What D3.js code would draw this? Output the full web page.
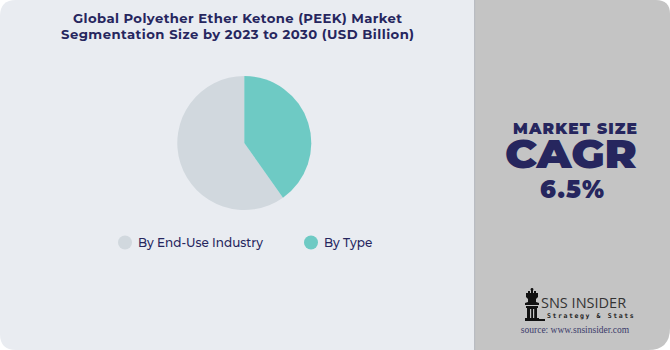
<!DOCTYPE html>
<html><head><meta charset="utf-8">
<script src="https://cdn.jsdelivr.net/npm/d3@7"></script>
<style>html,body{margin:0;padding:0;background:#fff;}svg{display:block;}</style>
</head><body>
<script>
const categories = ["By End-Use Industry", "By Type"];
const shares = [59.8, 40.2];
const colors = ["#d1d8de", "#6ecac4"];
const titleLines = ["Global Polyether Ether Ketone (PEEK) Market", "Segmentation Size by 2023 to 2030 (USD Billion)"];
const cagrLabel = "6.5%";

const W = 670, H = 350;
const svg = d3.select("body").append("svg").attr("width", W).attr("height", H);
const navy = "#26265e";

// panels
svg.append("path").attr("fill", "#e9ecf1")
  .attr("d", `M0,16 Q0,0 16,0 L474,0 L474,350 L16,350 Q0,350 0,334 Z`);
svg.append("path").attr("fill", "#c4c4c4")
  .attr("d", `M474,0 L656,0 Q670,0 670,14 L670,328 Q670,350 648,350 L474,350 Z`);
svg.append("rect").attr("x", 474).attr("y", 0).attr("width", 1.2).attr("height", 350).attr("fill", "#b9bcc2");

// title
const font = "Montserrat, 'Open Sans', 'Noto Sans', sans-serif";
const titleW = [329, 353];
svg.append("g").selectAll("text").data(titleLines).join("text")
  .attr("x", 237.5).attr("y", (d, i) => 23.3 + i * 16)
  .attr("text-anchor", "middle").attr("font-family", font).attr("font-weight", 700)
  .attr("font-size", 13.2).attr("textLength", (d, i) => titleW[i]).attr("lengthAdjust", "spacing")
  .attr("fill", navy).text(d => d);

// pie
const order = [1, 0];
const pie = d3.pie().value(d => d.v).sort((a, b) => order.indexOf(a.i) - order.indexOf(b.i));
const data = categories.map((c, i) => ({ c, v: shares[i], i }));
const arc = d3.arc().innerRadius(0).outerRadius(67);
svg.append("g").attr("transform", "translate(244.3,143)")
  .selectAll("path").data(pie(data)).join("path")
  .attr("d", arc).attr("fill", d => colors[d.data.i]);

// legend
const lx = [125, 311];
const lg = svg.append("g").selectAll("g").data(categories).join("g")
  .attr("transform", (d, i) => `translate(${lx[i]},242.5)`);
lg.append("circle").attr("r", 7).attr("fill", (d, i) => colors[i]);
lg.append("text").attr("x", 13).attr("y", 4.5).attr("font-family", font).attr("font-weight", 500)
  .attr("font-size", 12).attr("fill", navy).text(d => d);

// right panel
svg.append("text").attr("x", 575).attr("y", 133.5).attr("text-anchor", "middle")
  .attr("font-family", font).attr("font-weight", 900).attr("font-size", 15.5)
  .attr("textLength", 124).attr("lengthAdjust", "spacing").attr("fill", navy).text("MARKET SIZE");
svg.append("text").attr("x", 571).attr("y", 168).attr("text-anchor", "middle")
  .attr("font-family", font).attr("font-weight", 900).attr("font-size", 40)
  .attr("textLength", 132).attr("lengthAdjust", "spacingAndGlyphs").attr("fill", navy).text("CAGR");
svg.append("text").attr("x", 572).attr("y", 198).attr("text-anchor", "middle")
  .attr("font-family", font).attr("font-weight", 900).attr("font-size", 24)
  .attr("textLength", 64).attr("lengthAdjust", "spacing").attr("fill", navy).text(cagrLabel);

// logo
const logo = svg.append("g").attr("transform", "translate(523,288)");
logo.append("path").attr("fill", "#111")
  .attr("d", "M3,5 L5,5 L5,3 L7,3 L7,5 L8,5 L8,2 L10,2 L10,5 L11,5 L11,3 L13,3 L13,5 L15,5 L15,9 L13,11 L13,14 L16,15 L16,17 L2,17 L2,15 L5,14 L5,11 L3,9 Z");
logo.append("circle").attr("cx", 9).attr("cy", 1.5).attr("r", 1.4).attr("fill", "#111");
logo.append("path").attr("fill", "#111")
  .attr("d", "M3,18 L15,18 L15,20 L14,20 L14,30 L16,30 L16,33 L2,33 L2,30 L4,30 L4,20 L3,20 Z");
logo.append("rect").attr("x", 7).attr("y", 21).attr("width", 1.2).attr("height", 9).attr("fill", "#c4c4c4");
logo.append("rect").attr("x", 10).attr("y", 21).attr("width", 1.2).attr("height", 9).attr("fill", "#c4c4c4");
logo.append("rect").attr("x", 16).attr("y", 31).attr("width", 6).attr("height", 2).attr("fill", "#111");
svg.append("text").attr("x", 541).attr("y", 307.5).attr("font-family", "'Open Sans', sans-serif")
  .attr("font-size", 14.5).attr("fill", "#333").text("SNS INSIDER");
svg.append("text").attr("x", 547).attr("y", 317.5).attr("font-family", "'DejaVu Sans Mono', monospace")
  .attr("font-size", 6.5).attr("font-weight", 700).attr("letter-spacing", 1.6).attr("fill", "#222").text("Strategy & Stats");
svg.append("text").attr("x", 575).attr("y", 333).attr("text-anchor", "middle").attr("font-family", "'Liberation Serif', serif")
  .attr("font-size", 9.5).attr("fill", "#3a3a6a").text("source: www.snsinsider.com");
</script>
</body></html>
